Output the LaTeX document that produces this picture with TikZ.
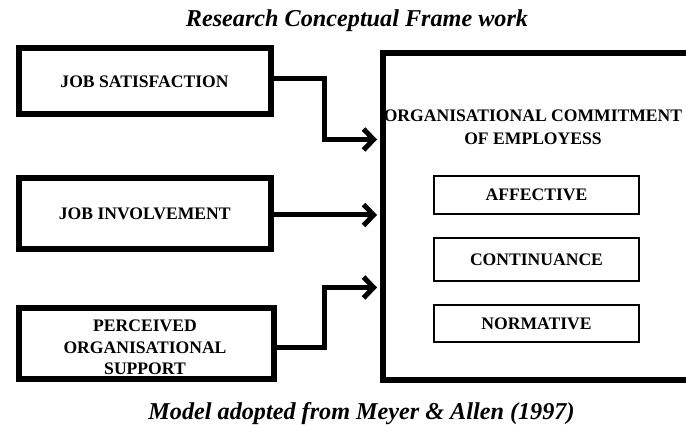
\documentclass[tikz,border=0pt]{standalone}
\usepackage{fontspec}
\setmainfont{Liberation Serif}
\usetikzlibrary{arrows.meta,shadows}
\tikzset{
  x=1pt, y=-1pt,
  bigbox/.style={draw=black, line width=6pt, fill=white, inner sep=0pt, align=center,
    font=\fontsize{17.6}{21}\selectfont\bfseries,
    drop shadow={shadow xshift=2pt, shadow yshift=-2pt, opacity=0.25, fill=black}},
  boxtext/.style={align=center, inner sep=0pt, font=\fontsize{17.6}{21.5}\selectfont\bfseries},
  smallbox/.style={draw=black, line width=1.6pt, fill=white, inner sep=0pt,
    minimum width=205pt, font=\fontsize{17.6}{21}\selectfont\bfseries},
  conn/.style={line width=5pt, -{Straight Barb[length=10pt,width=21pt]}, shorten >=3pt},
  heading/.style={font=\fontsize{24.2}{28}\selectfont\bfseries\itshape}
}
\begin{document}
\begin{tikzpicture}
\useasboundingbox (0,0) rectangle (686,425);
\clip (0,0) rectangle (686,425);
\fill[white] (0,0) rectangle (686,425);

\node[heading, anchor=base] (title) at (357,27) {Research Conceptual Frame work};
\node[heading, anchor=base] (source) at (361.5,419) {Model adopted from Meyer \& Allen (1997)};

\node[bigbox, minimum width=252pt, minimum height=66pt] (b1) at (144.5,81.5) {JOB SATISFACTION};
\node[bigbox, minimum width=252.5pt, minimum height=70.5pt] (b2) at (144.75,213.75) {JOB INVOLVEMENT};
\node[bigbox, minimum width=255pt, minimum height=71pt] (b3) at (146,343.5) {};
\node[boxtext] (b3text) at (145,347.5) {PERCEIVED\\ORGANISATIONAL\\SUPPORT};

\node[draw=black, line width=6pt, fill=white, minimum width=340pt, minimum height=326.5pt,
  anchor=north west, inner sep=0pt,
  drop shadow={shadow xshift=2pt, shadow yshift=-2pt, opacity=0.25, fill=black}] (main) at (380,50) {};

\node[align=center, font=\fontsize{17.6}{23}\selectfont\bfseries, anchor=base] (head) at (533,145)
  {ORGANISATIONAL COMMITMENT\\OF EMPLOYESS};

\node[smallbox, minimum height=38pt] (aff) at (536.5,195) {AFFECTIVE};
\node[smallbox, minimum height=43pt] (con) at (536.5,259.5) {CONTINUANCE};
\node[smallbox, minimum height=37pt] (nor) at (536.5,323.5) {NORMATIVE};

\coordinate (h1) at (0,139.5);
\coordinate (h2) at (0,215);
\coordinate (h3) at (0,287.5);

\draw[conn] ([yshift=2.5pt]b1.east) -| (324,110) |- (main.west |- h1);
\draw[conn] (b2.east |- h2) -- (main.west |- h2);
\draw[conn] ([yshift=-3.5pt]b3.east) -| (324.5,320) |- (main.west |- h3);
\end{tikzpicture}
\end{document}
